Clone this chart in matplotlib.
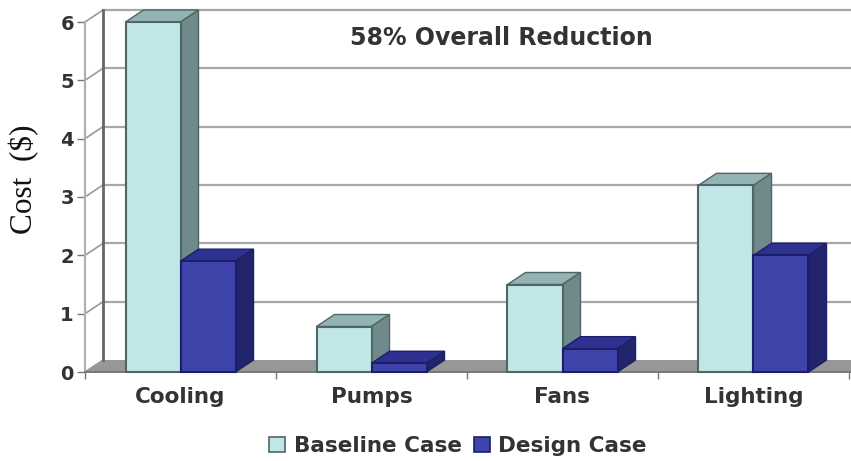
import numpy as np
import matplotlib
matplotlib.use("Agg")
import matplotlib.pyplot as plt
from matplotlib.patches import Polygon, Patch

# values
categories = ["Cooling", "Pumps", "Fans", "Lighting"]
baseline = [6.0, 0.78, 1.5, 3.2]
design = [1.9, 0.15, 0.4, 2.0]
y_ticks = [0, 1, 2, 3, 4, 5, 6]

W, H = 851, 461
x_left, x_right = 85, 851
y_zero, y_six = 372, 22
cat_px = 191
bar_w = 55 / cat_px
dx = 18 / cat_px
dy = 12 / ((y_zero - y_six) / 6)

plt.rcParams["font.family"] = ["DejaVu Sans"]
fig = plt.figure(figsize=(W / 100, H / 100), dpi=100)
ax = fig.add_axes([x_left / W, 1 - y_zero / H, (x_right - x_left) / W, (y_zero - y_six) / H])
xmin = -0.5
xmax = xmin + (x_right - x_left) / cat_px
ax.set_xlim(xmin, xmax)
ax.set_ylim(0, 6)
ax.patch.set_visible(False)
for s in ax.spines.values():
    s.set_visible(False)


def add(points, **kw):
    ax.add_patch(Polygon(points, closed=True, clip_on=False, **kw))


# floor and grid on the back wall
add([(xmin, 0), (xmin + dx, dy), (xmax, dy), (xmax, 0)], fc="#979797", ec="none", zorder=1)
for t in y_ticks:
    if t > 0:
        ax.plot([xmin + dx, xmax], [t + dy, t + dy], color="#a8a8a8", lw=1.6, zorder=1.5, clip_on=False)
    ax.plot([xmin, xmin + dx], [t, t + dy], color="#9a9a9a", lw=1.2, zorder=1.5, clip_on=False)
ax.plot([xmin + dx, xmin + dx], [dy, 6 + dy], color="#666666", lw=2, zorder=2, clip_on=False)
ax.plot([xmin, xmin], [0, 6], color="#b0b0b0", lw=1.6, zorder=2, clip_on=False)
ax.plot([xmin, xmax], [0, 0], color="#777777", lw=1.4, zorder=2, clip_on=False)


def draw_series(values, x0s, front, top, side, edge, z):
    for x0, v in zip(x0s, values):
        ax.bar(x0, v, bar_w, align="edge", color=front, edgecolor=edge, linewidth=1.5, zorder=z + 0.2, clip_on=False)
        add([(x0, v), (x0 + dx, v + dy), (x0 + bar_w + dx, v + dy), (x0 + bar_w, v)],
            fc=top, ec=edge, lw=1, zorder=z)
        add([(x0 + bar_w, 0), (x0 + bar_w + dx, dy), (x0 + bar_w + dx, v + dy), (x0 + bar_w, v)],
            fc=side, ec=edge, lw=1, zorder=z)


pos = np.arange(len(categories))
draw_series(baseline, pos - bar_w, "#c1e6e8", "#93b3b5", "#708a8c", "#4f6566", 3)
draw_series(design, pos, "#3f44aa", "#2e3190", "#22256b", "#1c1f66", 4)

# ticks sit between the categories, labels on the categories
ax.set_xticks(np.arange(len(categories) + 1) - 0.5)
ax.set_xticklabels([])
ax.set_xticks(pos, minor=True)
ax.set_xticklabels(categories, minor=True, fontsize=15.5, fontweight="bold", color="#333333")
ax.tick_params(axis="x", which="major", length=5, width=1, color="#777777")
ax.tick_params(axis="x", which="minor", length=0, pad=11)
ax.set_yticks(y_ticks)
ax.set_yticklabels([str(t) for t in y_ticks], fontsize=14, fontweight="bold", color="#333333")
ax.tick_params(axis="y", length=6, width=1, color="#777777", pad=2)

fig.text(501 / W, 1 - 38 / H, "58% Overall Reduction", ha="center", va="center",
         fontsize=17, fontweight="bold", color="#333333")
fig.text(24 / W, 1 - 179 / H, "Cost  ($)", rotation=90, ha="center", va="center",
         family=["Liberation Serif"], fontsize=22.5, color="#111111")

handles = [Patch(fc="#c1e6e8", ec="#4f6566", lw=1.2), Patch(fc="#3f44aa", ec="#1c1f66", lw=1.2)]
fig.legend(handles, ["Baseline Case", "Design Case"], ncol=2, frameon=False,
           loc="center", bbox_to_anchor=(458 / W, 1 - 446 / H),
           prop={"size": 15.5, "weight": "bold"}, labelcolor="#333333",
           handlelength=0.75, handleheight=0.75, handletextpad=0.4, columnspacing=0.55)

fig.savefig("out.png", dpi=100)
